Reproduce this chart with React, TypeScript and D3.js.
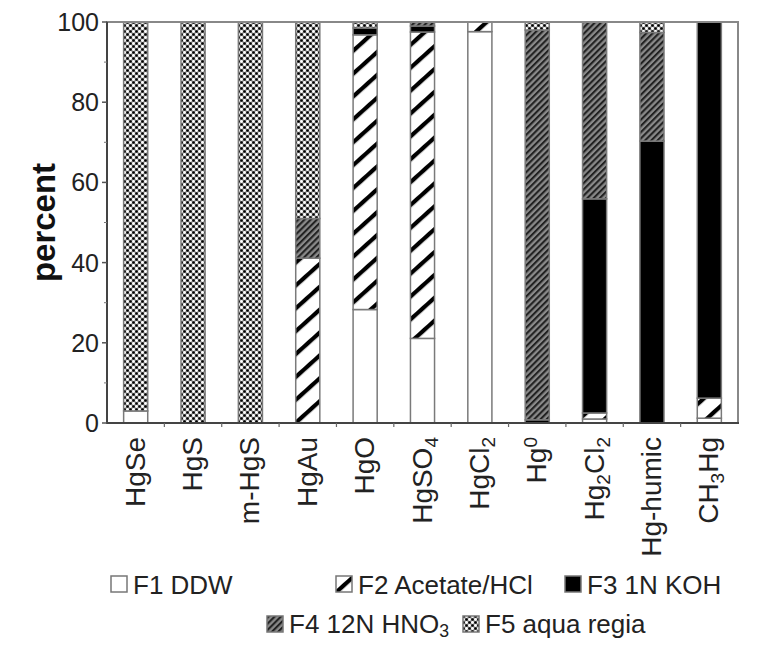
import React from 'react'
import * as d3 from 'd3'

// mercury species, fractions in percent of total
const categories = ['HgSe', 'HgS', 'm-HgS', 'HgAu', 'HgO', 'HgSO4', 'HgCl2', 'Hg0', 'Hg2Cl2', 'Hg-humic', 'CH3Hg']
const categoryLabels: [string, string][][] = [
  [['HgSe', '']],
  [['HgS', '']],
  [['m-HgS', '']],
  [['HgAu', '']],
  [['HgO', '']],
  [['HgSO', ''], ['4', 'sub']],
  [['HgCl', ''], ['2', 'sub']],
  [['Hg', ''], ['0', 'sup']],
  [['Hg', ''], ['2', 'sub'], ['Cl', ''], ['2', 'sub']],
  [['Hg-humic', '']],
  [['CH', ''], ['3', 'sub'], ['Hg', '']],
]

const f1 = [3, 0, 0, 0, 28.3, 21.1, 97.6, 0, 1.0, 0, 1.2]
const f2 = [0, 0, 0, 41.1, 68.5, 76.4, 2.4, 0, 1.5, 0, 5.0]
const f3 = [0, 0, 0, 0, 1.7, 1.5, 0, 0.8, 53.4, 70.3, 93.8]
const f4 = [0, 0, 0, 9.9, 0, 1.0, 0, 97.2, 44.1, 27.1, 0]
const f5 = [97, 100, 100, 49, 1.5, 0, 0, 2.0, 0, 2.6, 0]

const seriesKeys = ['f1', 'f2', 'f3', 'f4', 'f5']
const yTicks = [0, 20, 40, 60, 80, 100]
const yMinorTicks = [10, 30, 50, 70, 90]

const font = 'Liberation Sans, Arial, sans-serif'
const fills: Record<string, string> = {
  f1: '#fff',
  f2: 'url(#pf2)',
  f3: '#000',
  f4: 'url(#pf4)',
  f5: 'url(#pf5)',
}

const Label = ({ parts, size, shift = 0.3 }: { parts: [string, string][]; size: number; shift?: number }) => (
  <>
    {parts.map(([t, k], i) => {
      if (!k) return <tspan key={i}>{t}</tspan>
      return (
        <tspan key={i} fontSize={size * 0.68} baselineShift={k === 'sub' ? `-${shift}em` : '0.45em'}>{t}</tspan>
      )
    })}
  </>
)

export default function App() {
  const width = 772, height = 645
  const left = 107, right = 738, top = 22, bottom = 423

  const rows = categories.map((c, i) => ({
    cat: c, f1: f1[i], f2: f2[i], f3: f3[i], f4: f4[i], f5: f5[i],
  }))
  const stacked = d3.stack<any>().keys(seriesKeys)(rows)

  const x = d3.scaleBand().domain(categories).range([left, right]).paddingInner(0.58).paddingOuter(0.29)
  const y = d3.scaleLinear().domain([0, 100]).range([bottom, top])
  const step = x.step()

  const legend1 = [
    { key: 'f1', x: 111, parts: [['F1 DDW', '']] as [string, string][] },
    { key: 'f2', x: 336, parts: [['F2 Acetate/HCl', '']] as [string, string][] },
    { key: 'f3', x: 565, parts: [['F3 1N KOH', '']] as [string, string][] },
  ]
  const legend2 = [
    { key: 'f4', x: 267, parts: [['F4 12N HNO', ''], ['3', 'sub']] as [string, string][] },
    { key: 'f5', x: 463, parts: [['F5 aqua regia', '']] as [string, string][] },
  ]

  return (
    <svg width={width} height={height} style={{ position: 'absolute', left: 0, top: 0, background: '#fff' }}>
      <defs>
        <pattern id="pf2" patternUnits="userSpaceOnUse" width={12} height={17} patternTransform="rotate(-42)">
          <rect width={12} height={17} fill="#fff" />
          <rect width={12} height={4.2} fill="#000" />
        </pattern>
        <pattern id="pf4" patternUnits="userSpaceOnUse" width={4} height={4.4} patternTransform="rotate(-45)">
          <rect width={4} height={4.4} fill="#8a8a8a" />
          <rect width={4} height={2.1} fill="#222" />
        </pattern>
        <pattern id="pf5" patternUnits="userSpaceOnUse" width={6} height={6}>
          <rect width={6} height={6} fill="#8c8c8c" />
          <circle cx={1.5} cy={1.5} r={1.4} fill="#fff" />
          <circle cx={4.5} cy={4.5} r={1.4} fill="#fff" />
          <circle cx={4.5} cy={1.5} r={1.3} fill="#000" />
          <circle cx={1.5} cy={4.5} r={1.3} fill="#000" />
        </pattern>
      </defs>

      {/* bars */}
      {stacked.map(s => (
        <g key={s.key}>
          {s.map((d, i) => d[1] - d[0] > 0 ? (
            <rect key={i} x={x(categories[i])} width={x.bandwidth()}
              y={y(d[1])} height={y(d[0]) - y(d[1])}
              fill={fills[s.key]} stroke="#7a7a7a" strokeWidth={1.5} />
          ) : null)}
        </g>
      ))}

      {/* frame */}
      <rect x={left} y={top} width={right - left} height={bottom - top} fill="none" stroke="#888" strokeWidth={2} />
      <line x1={left} x2={left} y1={top} y2={bottom} stroke="#444" strokeWidth={2} />
      <line x1={left - 1} x2={right + 1} y1={bottom} y2={bottom} stroke="#444" strokeWidth={2} />

      {/* y axis */}
      {yTicks.map(t => (
        <g key={t}>
          <line x1={left - 5} x2={left} y1={y(t)} y2={y(t)} stroke="#555" strokeWidth={1.5} />
          <text x={left - 8} y={y(t)} dy="0.36em" textAnchor="end" fontFamily={font} fontSize={25} fill="#222">{t}</text>
        </g>
      ))}
      {yMinorTicks.map(t => (
        <line key={t} x1={left - 3} x2={left} y1={y(t)} y2={y(t)} stroke="#777" strokeWidth={1} />
      ))}
      <text transform={`translate(55,${(top + bottom) / 2}) rotate(-90)`} textAnchor="middle"
        fontFamily={font} fontWeight="bold" fontSize={33} fill="#111">percent</text>

      {/* x axis */}
      {categories.map((c, i) => i > 0 ? (
        <line key={c} x1={left + step * i} x2={left + step * i} y1={bottom} y2={bottom + 4} stroke="#666" strokeWidth={1.2} />
      ) : null)}
      {categories.map((c, i) => (
        <text key={c} transform={`translate(${(x(c) as number) + x.bandwidth() / 2 + 9},${bottom + 14}) rotate(-90)`}
          textAnchor="end" fontFamily={font} fontSize={28} fill="#222">
          <Label parts={categoryLabels[i]} size={28} />
        </text>
      ))}

      {/* legend */}
      {legend1.map(l => (
        <g key={l.key}>
          <rect x={l.x} y={576} width={16} height={16} fill={fills[l.key]} stroke="#777" strokeWidth={1.5} />
          <text x={l.x + 22} y={594} fontFamily={font} fontSize={26} fill="#222"><Label parts={l.parts} size={26} /></text>
        </g>
      ))}
      {legend2.map(l => (
        <g key={l.key}>
          <rect x={l.x} y={616} width={16} height={16} fill={fills[l.key]} stroke="#777" strokeWidth={1.5} />
          <text x={l.x + 22} y={633} fontFamily={font} fontSize={26} fill="#222"><Label parts={l.parts} size={26} shift={0.2} /></text>
        </g>
      ))}
    </svg>
  )
}
